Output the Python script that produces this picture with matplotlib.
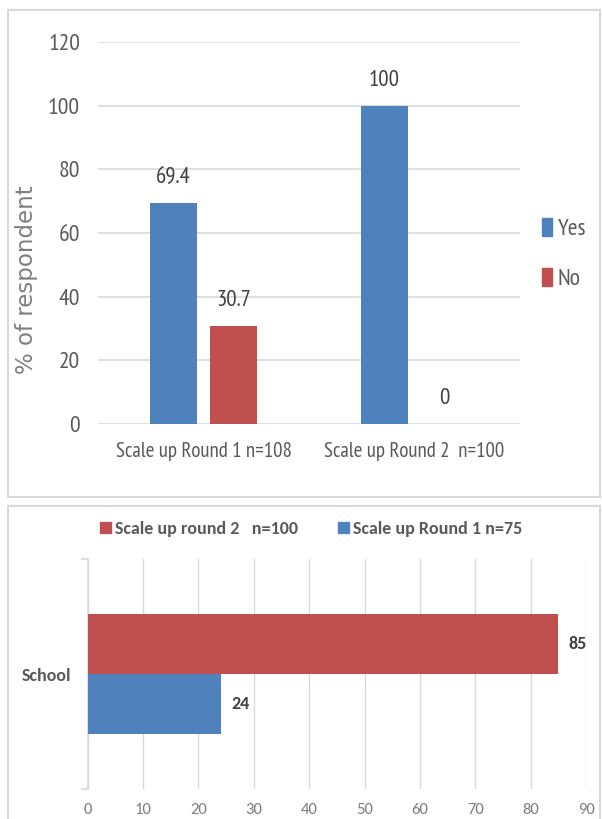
import matplotlib
matplotlib.use("Agg")
import matplotlib.pyplot as plt
from matplotlib import font_manager
from matplotlib.patches import Rectangle, Patch
import numpy as np

# ---- data ----
top_categories = ["Scale up Round 1 n=108", "Scale up Round 2  n=100"]
top_series = ["Yes", "No"]
yes_values = [69.4, 100]
no_values = [30.7, 0]
top_yticks = [0, 20, 40, 60, 80, 100, 120]

bottom_categories = ["School"]
round2_label = "Scale up round 2   n=100"
round1_label = "Scale up Round 1 n=75"
round2_values = [85]
round1_values = [24]
bottom_xticks = [0, 10, 20, 30, 40, 50, 60, 70, 80, 90]

BLUE = "#4F81BD"
RED = "#C0504D"
GRAY = "#595959"
GRID = "#D9D9D9"

names = {f.name for f in font_manager.fontManager.ttflist}


def pick(prefs, default="Liberation Sans"):
    for p in prefs:
        if p in names:
            return p
    return default


NARROW = pick(["PT Sans Narrow", "Roboto Condensed", "Open Sans Condensed", "Archivo Narrow",
               "Asap Condensed", "Barlow Condensed"])
CAL = pick(["Carlito", "Open Sans", "Liberation Sans"])

fig = plt.figure(figsize=(6.02, 8.19), dpi=100)

# panel borders
fig.patches.append(Rectangle((0.0133, 0.393), 0.9834, 0.5948, transform=fig.transFigure,
                             fill=False, edgecolor=GRID, lw=1.5))
fig.patches.append(Rectangle((0.0133, -0.01), 0.9834, 0.3922, transform=fig.transFigure,
                             fill=False, edgecolor=GRID, lw=1.5))

# ---- top chart ----
ax = fig.add_axes([0.1628, 0.4823, 0.701, 0.4664])
x = np.arange(len(top_categories))
w = 0.223
off = 0.1425
b1 = ax.bar(x - off, yes_values, w, color=BLUE, label=top_series[0], zorder=3)
b2 = ax.bar(x + off, no_values, w, color=RED, label=top_series[1], zorder=3)
for bars, vals in ((b1, yes_values), (b2, no_values)):
    for rect, v in zip(bars, vals):
        ax.annotate(f"{v:g}", (rect.get_x() + rect.get_width() / 2, v),
                    xytext=(0, 14.4), textcoords="offset points",
                    ha="center", va="baseline", fontsize=16.5, family=NARROW, color="#404040")
ax.set_xlim(-0.5, 1.5)
ax.set_ylim(0, 120)
ax.set_yticks(top_yticks)
ax.set_xticks(x)
ax.set_xticklabels(top_categories, fontsize=15, family=NARROW, color=GRAY)
for lab in ax.get_yticklabels():
    lab.set_fontsize(17)
    lab.set_family(NARROW)
    lab.set_color(GRAY)
ax.tick_params(axis="both", length=0)
ax.tick_params(axis="y", pad=13)
ax.tick_params(axis="x", pad=13)
ax.grid(axis="y", color=GRID, lw=1.2, zorder=0)
for s in ax.spines.values():
    s.set_visible(False)
ax.set_ylabel("% of respondent", fontsize=16.5, color="#7f7f7f", family="DejaVu Sans")
ax.yaxis.set_label_coords(-0.142, 0.377)

fig.legend(handles=[Patch(color=BLUE, label=top_series[0]), Patch(color=RED, label=top_series[1])],
           loc="center left", bbox_to_anchor=(0.900, 1 - 254 / 819), frameon=False,
           prop={"family": NARROW, "size": 17}, labelcolor=GRAY,
           handlelength=0.42, handleheight=0.8, handletextpad=0.25, labelspacing=1.2,
           borderaxespad=0, borderpad=0)

# ---- bottom chart ----
bx = fig.add_axes([0.1457, 0.0366, 0.8277, 0.2808])
y = np.arange(len(bottom_categories))
h = 0.26
r2 = bx.barh(y + h / 2, round2_values, h, color=RED, label=round2_label, zorder=3)
r1 = bx.barh(y - h / 2, round1_values, h, color=BLUE, label=round1_label, zorder=3)
for bars, vals in ((r2, round2_values), (r1, round1_values)):
    for rect, v in zip(bars, vals):
        bx.annotate(f"{v:g}", (v, rect.get_y() + rect.get_height() / 2),
                    xytext=(7.5, 0), textcoords="offset points", ha="left", va="center",
                    fontsize=13, fontweight="bold", family=CAL, color="#404040")
bx.set_xlim(0, 90)
bx.set_ylim(-0.5, 0.5)
bx.set_xticks(bottom_xticks)
for lab in bx.get_xticklabels():
    lab.set_fontsize(12)
    lab.set_family(CAL)
    lab.set_color("#7f7f7f")
bx.tick_params(axis="x", length=0, pad=10)
bx.set_yticks([-0.5, 0.5])
bx.set_yticklabels(["", ""])
bx.tick_params(axis="y", length=5, color=GRID, width=1.2)
bx.set_yticks(y, minor=True)
bx.set_yticklabels(bottom_categories, minor=True, fontsize=13, fontweight="bold",
                   family=CAL, color=GRAY)
bx.tick_params(axis="y", which="minor", length=0, pad=12)
bx.grid(axis="x", color=GRID, lw=1.0, zorder=0)
for k, s in bx.spines.items():
    if k == "left":
        s.set_color(GRID)
        s.set_linewidth(1.2)
    else:
        s.set_visible(False)

fig.legend(handles=[Patch(color=RED, label=round2_label), Patch(color=BLUE, label=round1_label)],
           loc="center", bbox_to_anchor=(0.517, 1 - 529 / 819), ncol=2, frameon=False,
           prop={"family": CAL, "size": 13, "weight": "bold"}, labelcolor=GRAY,
           handlelength=0.6, handleheight=0.6, handletextpad=0.25, columnspacing=2.2,
           borderaxespad=0, borderpad=0)

fig.savefig("out.png", dpi=100)
